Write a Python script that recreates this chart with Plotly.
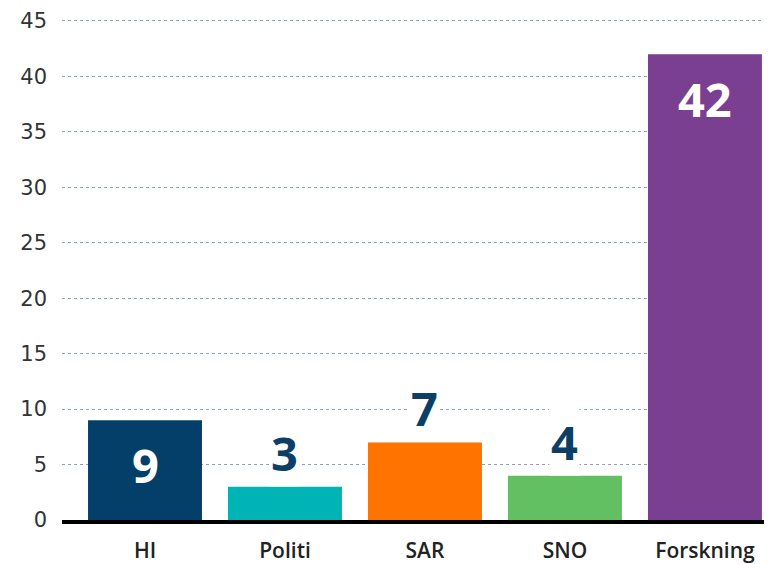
import plotly.graph_objects as go

categories = ["HI", "Politi", "SAR", "SNO", "Forskning"]
values = [9, 3, 7, 4, 42]
colors = ["#033f68", "#00b3b5", "#ff7300", "#62c062", "#7b3f91"]
label_inside = [True, False, False, False, True]
y_ticks = [0, 5, 10, 15, 20, 25, 30, 35, 40, 45]

fig = go.Figure()
fig.add_trace(go.Bar(
    x=categories, y=values, marker=dict(color=colors, line=dict(width=0)),
    width=0.814, hoverinfo="skip",
))

annotations = []
for c, v, ins in zip(categories, values, label_inside):
    annotations.append(dict(
        x=c, y=v, xref="x", yref="y", text=f"<b>{v}</b>", showarrow=False,
        yshift=-45 if ins else 34, yanchor="middle",
        font=dict(family="Open Sans, Noto Sans, sans-serif", size=47,
                  color="white" if ins else "#0d3f66"),
        bgcolor=None if ins else "white",
    ))

fig.update_layout(
    width=764, height=556,
    margin=dict(l=54, r=0, t=10, b=44),
    paper_bgcolor="white", plot_bgcolor="white",
    showlegend=False,
    annotations=annotations,
    xaxis=dict(
        range=[-0.593, 4.479], showgrid=False, zeroline=False,
        showline=True, linecolor="black", linewidth=4, ticks="",
        ticklabelstandoff=9, automargin=False,
        tickfont=dict(family="Open Sans, Noto Sans, sans-serif", size=21,
                      color="#222", weight=600),
    ),
    yaxis=dict(
        range=[0, 45.27], tickvals=y_ticks, showgrid=True,
        gridcolor="#8aa5b8", griddash="dot", gridwidth=1,
        zeroline=False, showline=False, ticks="",
        ticklabelstandoff=14, automargin=False,
        tickfont=dict(family="DejaVu Sans, sans-serif", size=21, color="#333"),
    ),
)

fig.write_html("out.html")
